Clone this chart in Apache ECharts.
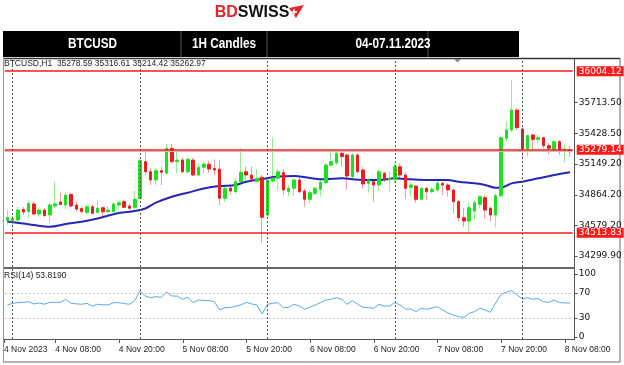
<!DOCTYPE html>
<html><head><meta charset="utf-8">
<script src="https://cdn.jsdelivr.net/npm/echarts@6/dist/echarts.min.js"></script>
<style>html,body{margin:0;padding:0;background:#fff}#c{width:624px;height:365px}</style>
</head><body><div id="c"></div>
<script>
// hourly candles, first = 3 Nov 23:00, last = 8 Nov 09:00
const startTime = Date.UTC(2023, 10, 3, 23);
const opens = [34627,34618,34632,34729,34710,34780,34687,34724,34678,34761,34798,34770,34867,34770,34738,34701,34754,34701,34745,34708,34708,34770,34801,34761,34749,34832,
35170,35077,35001,35087,35065,35293,35170,35185,35077,35185,35047,35118,35146,35107,35102,34832,34927,34893,34985,35077,35047,34985,35026,34678,34992,
35016,35068,34893,34924,35001,34899,34823,34878,34915,34976,35139,35160,35247,35231,35032,35231,35093,34970,34985,34955,35063,35001,35007,35123,35047,
34933,34945,34823,34924,34893,34909,34970,34955,34909,34801,34653,34623,34715,34777,34838,34740,34678,34856,35385,35462,35646,35471,35287,35416,35376,
35391,35317,35277,35354,35268,35278.59];
const closes = [34655,34646,34724,34706,34784,34687,34724,34673,34770,34780,34775,34862,34761,34733,34710,34754,34694,34740,34708,34724,34780,34792,34749,34740,34823,35179,
35077,35001,35087,35072,35293,35170,35185,35077,35192,35047,35118,35148,35102,35093,34832,34924,34899,34985,35072,35047,35010,35016,34657,35001,35019,
35077,34909,34924,35001,34893,34823,34884,34924,34980,35139,35170,35247,35216,35038,35231,35077,34964,35001,34955,35077,35007,35016,35123,35047,34924,
34955,34823,34924,34893,34915,34970,34955,34909,34801,34653,34623,34745,34792,34847,34724,34678,34856,35391,35462,35646,35483,35287,35409,35376,35391,
35317,35293,35354,35277,35287,35262.97];
const highs = [34724,34669,34752,34752,34807,34801,34742,34742,34789,34982,34881,34884,34881,34801,34754,34770,34770,34807,34754,34761,34792,34807,34816,34780,34899,35201,
35277,35111,35111,35123,35333,35333,35262,35204,35201,35201,35160,35170,35179,35192,35185,34955,34955,35016,35293,35123,35123,35100,35047,35019,35395,
35102,35102,34955,35016,35032,34924,34909,34939,35016,35158,35284,35262,35262,35247,35247,35247,35123,35016,35001,35100,35077,35077,35155,35155,35077,
34985,34955,34939,34936,34939,34992,34985,34970,34924,34816,34742,34789,34816,34862,34856,34754,34878,35406,35538,35923,35662,35489,35422,35425,35416,
35400,35339,35363,35370,35324,35316.61];
const lows = [34586,34558,34614,34678,34650,34678,34660,34660,34604,34742,34770,34733,34752,34708,34694,34687,34687,34696,34662,34699,34706,34730,34740,34730,34724,34816,
35047,34955,34955,34955,35047,35155,35063,35063,35063,35038,35038,35063,35068,35047,34770,34801,34862,34878,34973,35001,35001,34985,34423,34660,34973,
34909,34862,34848,34853,34878,34752,34786,34862,34848,34964,35123,35139,35123,34909,35019,35063,34924,34884,34801,34902,34985,34893,34970,35016,34823,
34848,34792,34816,34816,34878,34887,34862,34848,34694,34616,34570,34524,34632,34740,34648,34623,34562,34844,35354,35446,35462,35207,35216,35287,35339,
35293,35238,35262,35231,35164,35214.42];
// moving average readings: candle index (0 = 3 Nov 23:00) and value
const maIndex = [0,3,5,8,11,14,17,21,24,26,28,31,34,37,40,43,45,48,51,54,57,60,63,67,70,73,76,79,81,83,85,88,90,92,93,95,97,100,103,106];
const maValue = [34618,34600,34586,34570,34595,34616,34646,34696,34715,34738,34792,34847,34884,34922,34945,34955,34985,35010,35033,35038,35019,35007,35016,35001,35001,35016,35007,35001,35001,35001,34985,34970,34955,34930,34930,34970,34985,35016,35047,35072];
const rsi = [51,53.4,54.5,55,56,52.4,54,52,55,55,55,59.8,53.4,52.5,52,53.4,49.2,52,51,50.8,54.5,54.5,53,52,57.7,73,
65,62.4,64,63,71.4,65,65,59.8,63,54.5,58.7,58,57.7,56,42.9,46.6,46.6,49,50.8,55,52.4,50.8,36.5,51.9,53.5,
54.5,46.6,47,51.9,49.2,44,47.5,50.8,54.5,58.7,60,62.4,59.8,51.9,57.7,51.9,47.1,46.6,45.5,51.9,49.2,49.2,54.5,50.8,44.4,
44.4,40.2,45.5,44,46,48,42.9,38,35,32.3,31.2,37.6,40.2,45.5,42.9,39.2,54,67.8,71,73.5,66.7,60.3,62.4,59.8,61,
56,55,58.7,54.5,54,53.82];
const priceTicks = [34299.90, 34579.20, 34864.20, 35149.20, 35428.50, 35713.50];
const rsiTicks = [0, 30, 70, 100];
const levelLines = [36004.12, 35279.14, 34513.83];
const bidPrice = 35262.97;
const daySeparators = [1, 25, 49, 73, 97];
const timeLabelIndex = [1, 9, 21, 33, 45, 57, 69, 81, 93, 105];
const timeLabelText = ['4 Nov 2023','4 Nov 08:00','4 Nov 20:00','5 Nov 08:00','5 Nov 20:00','6 Nov 08:00','6 Nov 20:00','7 Nov 08:00','7 Nov 20:00','8 Nov 08:00'];
const headerCells = ['BTCUSD', '1H Candles', '04-07.11.2023'];
const infoText = 'BTCUSD,H1  35278.59 35316.61 35214.42 35262.97';
const rsiText = 'RSI(14) 53.8190';

const cats = opens.map((_, i) => {
  const d = new Date(startTime + i * 3600000);
  return d.getUTCDate() + ' ' + d.getUTCHours() + ':00';
});
const full = opens.map((o, i) => [o, closes[i], lows[i], highs[i]]);
const bodies = opens.map((o, i) => [o, closes[i], Math.min(o, closes[i]), Math.max(o, closes[i])]);
const maData = maIndex.map((x, k) => [x, maValue[k]]);

const chart = echarts.init(document.getElementById('c'), null, {renderer: 'canvas'});
const GL = 4.7, GW = 568;
const smallFont = 'DejaVu Sans';
const option = {
  animation: false,
  backgroundColor: '#ffffff',
  grid: [
    {left: GL, top: 59, width: GW, height: 208, outerBoundsMode: 'none'},
    {left: GL, top: 269, width: GW, height: 70, outerBoundsMode: 'none'}
  ],
  xAxis: [
    {type: 'category', gridIndex: 0, data: cats, boundaryGap: true, axisLine: {show: false}, axisTick: {show: false}, axisLabel: {show: false}, splitLine: {show: false}},
    {type: 'category', gridIndex: 1, data: cats, boundaryGap: true, axisLine: {show: false}, axisTick: {show: false}, axisLabel: {show: false}, splitLine: {show: false}}
  ],
  yAxis: [
    {type: 'value', gridIndex: 0, position: 'right', offset: 2, min: 34198.7, max: 36116.4,
     axisLine: {show: true, lineStyle: {color: '#555', width: 1}},
     axisTick: {show: true, customValues: priceTicks, length: 3, lineStyle: {color: '#555'}},
     axisLabel: {customValues: priceTicks, formatter: v => v.toFixed(2), color: '#111', fontFamily: smallFont, fontSize: 9, margin: 4},
     splitLine: {show: false}},
    {type: 'value', gridIndex: 1, position: 'right', offset: 2, min: -3.2, max: 107.9,
     axisLine: {show: true, lineStyle: {color: '#555', width: 1}},
     axisTick: {show: true, customValues: rsiTicks, length: 3, lineStyle: {color: '#555'}},
     axisLabel: {customValues: rsiTicks, formatter: v => String(v), color: '#111', fontFamily: smallFont, fontSize: 9, margin: 4},
     splitLine: {show: false}}
  ],
  series: [
    {type: 'candlestick', xAxisIndex: 0, yAxisIndex: 0, data: full, barWidth: 1, silent: true,
     itemStyle: {color: '#93ef93', color0: '#f39a9a', borderColor: '#93ef93', borderColor0: '#f39a9a', borderWidth: 1},
     markLine: {silent: true, symbol: ['none', 'none'], animation: false,
       data: daySeparators.map(x => ({xAxis: x, lineStyle: {color: '#555', type: [2, 2], width: 1}, label: {show: false}}))}},
    {type: 'line', xAxisIndex: 0, yAxisIndex: 0, data: maData, symbol: 'none', smooth: 0.35,
     lineStyle: {color: '#2626b5', width: 2}, z: 3},
    {type: 'candlestick', xAxisIndex: 0, yAxisIndex: 0, data: bodies, barWidth: 3, silent: true, z: 4,
     itemStyle: {color: '#1fe01f', color0: '#f01c1c', borderColor: '#1fe01f', borderColor0: '#f01c1c', borderWidth: 1},
     markLine: {silent: true, symbol: ['none', 'none'], animation: false,
       data: [{yAxis: bidPrice, lineStyle: {color: '#c0c0c0', type: 'solid', width: 1}, label: {show: false}}].concat(
         levelLines.map(v => ({yAxis: v, lineStyle: {color: '#ff1a1a', type: 'solid', width: 1.6},
           label: {show: true, position: 'end', distance: 4, formatter: () => v.toFixed(2), color: '#fff', backgroundColor: '#ff1a1a',
             fontFamily: smallFont, fontSize: 9, padding: [1, 2, 0, 2]}})))}},
    {type: 'line', xAxisIndex: 1, yAxisIndex: 1, data: rsi, symbol: 'none', lineStyle: {color: '#5aa8f2', width: 1},
     markLine: {silent: true, symbol: ['none', 'none'], animation: false,
       data: [{yAxis: 30}, {yAxis: 70}].map(d => Object.assign(d, {lineStyle: {color: '#c4c4c4', type: [2, 2], width: 1}, label: {show: false}}))
         .concat(daySeparators.map(x => ({xAxis: x, lineStyle: {color: '#555', type: [2, 2], width: 1}, label: {show: false}})))}}
  ]
};
chart.setOption(option);

const els = [];
// logo
els.push({type: 'text', x: 252, y: 13, style: {text: '{r|BD}{k|SWISS}', rich: {
  r: {fill: '#e3242b', font: 'bold 16px "Liberation Sans"'}, k: {fill: '#111', font: 'bold 16px "Liberation Sans"'}},
  align: 'center', verticalAlign: 'middle'}});
els.push({type: 'polygon', shape: {points: [[289, 8], [304, 5], [296, 18]]}, style: {fill: '#e3242b'}});
els.push({type: 'polyline', shape: {points: [[294, 9], [294, 15]]}, style: {stroke: '#fff', lineWidth: 1.5}});
els.push({type: 'polyline', shape: {points: [[291, 12], [297, 12]]}, style: {stroke: '#fff', lineWidth: 1.5}});
// header bar
els.push({type: 'rect', shape: {x: 3, y: 31, width: 516, height: 26}, style: {fill: '#000'}});
[181, 267, 428].forEach(x => els.push({type: 'line', shape: {x1: x, y1: 31, x2: x, y2: 57}, style: {stroke: '#555', lineWidth: 1}}));
const cellCenters = [92.5, 224, 393];
headerCells.forEach((t, k) => els.push({type: 'text', x: cellCenters[k], y: 44.5, scaleX: 0.84,
  style: {text: t, fill: '#fff', font: 'bold 14px "Liberation Sans"', align: 'center', verticalAlign: 'middle'}}));
// frame
els.push({type: 'line', shape: {x1: 3, y1: 58.5, x2: 620, y2: 58.5}, style: {stroke: '#333', lineWidth: 1.5}});
els.push({type: 'line', shape: {x1: 3, y1: 268, x2: 575, y2: 268}, style: {stroke: '#333', lineWidth: 1.5}});
els.push({type: 'line', shape: {x1: 3, y1: 339.5, x2: 575, y2: 339.5}, style: {stroke: '#555', lineWidth: 1}});
els.push({type: 'line', shape: {x1: 3, y1: 362, x2: 620, y2: 362}, style: {stroke: '#666', lineWidth: 1}});
els.push({type: 'line', shape: {x1: 3.5, y1: 58, x2: 3.5, y2: 362}, style: {stroke: '#999', lineWidth: 1}});
els.push({type: 'line', shape: {x1: 620, y1: 58, x2: 620, y2: 362}, style: {stroke: '#666', lineWidth: 1}});
els.push({type: 'polygon', shape: {points: [[454, 59], [461, 59], [457.5, 62.5]]}, style: {fill: '#888'}});
// texts
els.push({type: 'text', x: 4, y: 63.5, style: {text: infoText, fill: '#222', font: '8.5px "Liberation Sans"', align: 'left', verticalAlign: 'middle'}});
els.push({type: 'text', x: 4, y: 275.5, style: {text: rsiText, fill: '#222', font: '8.5px "Liberation Sans"', align: 'left', verticalAlign: 'middle'}});
timeLabelIndex.forEach((idx, k) => {
  const px = k === 0 ? 4 : chart.convertToPixel({xAxisIndex: 1, yAxisIndex: 1}, [idx, 0])[0];
  els.push({type: 'text', x: px, y: 349.5, style: {text: timeLabelText[k], fill: '#222', font: '8.5px "Liberation Sans"', align: 'left', verticalAlign: 'middle'}});
  els.push({type: 'line', shape: {x1: Math.round(px) + 0.5, y1: 340, x2: Math.round(px) + 0.5, y2: 343}, style: {stroke: '#555', lineWidth: 1}});
});
chart.setOption({graphic: {elements: els}});
</script>
</body></html>
